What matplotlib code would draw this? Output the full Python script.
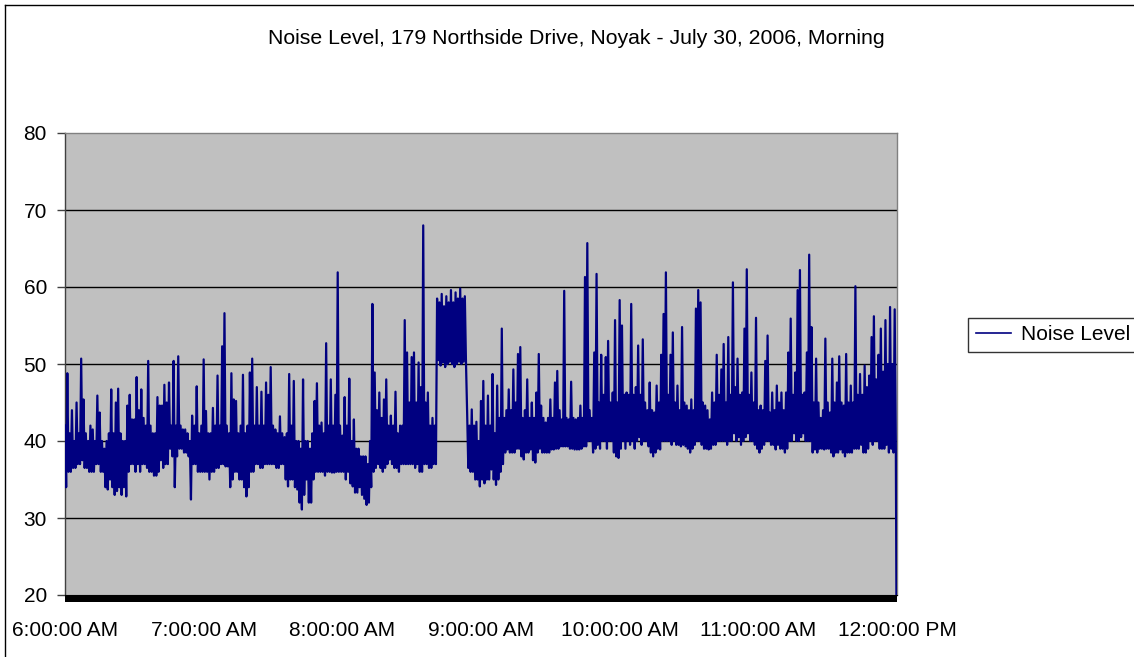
import numpy as np
import matplotlib
matplotlib.use("Agg")
import matplotlib.pyplot as plt
from matplotlib.lines import Line2D
from matplotlib.patches import Rectangle

plt.rcParams['font.family'] = ['Liberation Sans', 'DejaVu Sans']

# Highest and lowest sound level (dB) recorded within each minute, from 6:00 AM
max_06 = [42, 48.8, 41, 44, 40, 45, 41, 50.7, 45.4, 41,
          40, 42, 41.5, 40, 45.9, 43.7, 40, 39, 40, 41,
          46.7, 41, 45, 46.8, 41, 40, 40, 44.6, 46, 42.8,
          42.8, 48.3, 44, 46.7, 43, 42, 50.4, 42, 41, 41,
          45.7, 44.6, 44.6, 47.3, 45, 47.6, 42, 50.4, 42, 51,
          42, 41.5, 41.5, 41, 40, 43.3, 42, 47.1, 41, 42]
min_06 = [34, 36, 36, 36.5, 36.5, 37, 37, 37.5, 36.5, 36.5,
          36, 36, 36, 37, 37, 36, 36, 34, 33.7, 35,
          34, 33, 33.5, 34, 33, 34, 32.8, 36, 37, 37,
          36, 37, 36, 37, 37, 36.5, 36, 36, 35.5, 35.5,
          36, 37.5, 36.5, 37, 37, 39, 38, 34, 38, 39,
          39, 38.5, 38.5, 38, 32.4, 37, 37, 36, 36, 36]

max_07 = [50.6, 43.9, 41, 41, 44.3, 42, 48.5, 42, 52.3, 56.6,
          42, 41, 48.8, 45.4, 45.2, 41, 42, 48.6, 41, 42,
          48.9, 50.7, 42, 47, 42, 46.4, 42, 47.6, 46, 49.6,
          42, 41.5, 41, 43.2, 41, 40.5, 41, 48.7, 42, 47.8,
          40, 40, 39, 48, 40, 40, 39, 41, 45.2, 47.5,
          42, 42.4, 41, 52.7, 42, 48, 42, 46, 61.9, 42]
min_07 = [36, 36, 35, 36, 36, 36.5, 36.5, 37, 37, 36.7,
          36.7, 34, 35, 36, 36, 35, 35, 34, 32.8, 34,
          36, 36, 37, 37, 36.5, 36.5, 37, 37, 37, 37,
          37, 36.5, 36.5, 37, 37, 35, 34.1, 35, 35, 34,
          33.7, 32, 31.1, 33, 35, 32, 32, 35, 36, 36,
          36, 36, 35.5, 36, 36, 35.9, 35.9, 36, 36, 36]

max_08 = [40.7, 45.7, 42, 48.1, 40, 42.8, 39, 39, 38, 38,
          38, 37, 40, 57.8, 48.9, 44, 46.3, 43, 45.4, 48,
          42, 43.3, 42, 46.4, 41, 42, 42, 55.7, 51.5, 45,
          50.9, 51.5, 45, 50.2, 47, 68, 45, 46.3, 42, 43,
          42, 58.5, 58, 59.1, 57.5, 58.8, 58, 59.6, 58, 59.3,
          58.5, 59.8, 58.5, 58.8, 43.7, 42, 44.1, 42, 42.5, 40]
min_08 = [36, 35, 36, 34.5, 34.1, 33.3, 33.3, 34, 33, 32.5,
          31.7, 32, 34, 36, 36.5, 37, 36.5, 36, 36.5, 37,
          37.6, 37, 36.5, 36.5, 36, 37, 37, 37, 37, 37,
          37, 36.5, 37, 36, 36, 37, 37, 36.5, 36.5, 37,
          37, 50.5, 49.8, 50.2, 49.6, 50, 50.3, 50, 49.6, 50,
          50.3, 50, 50.3, 50.2, 36.5, 36, 36, 35, 35, 34.1]

max_09 = [45.2, 47.8, 42, 45.9, 42, 48.7, 41, 47.2, 43, 54.6,
          43, 44, 46.7, 44, 49.3, 45, 51.3, 52.2, 43, 44,
          48, 43, 45, 43, 46.3, 51.3, 44.6, 43, 42.4, 43,
          45.4, 43, 47.6, 49.1, 44, 42.8, 59.5, 43, 42.8, 47.7,
          43, 42.8, 43, 44.6, 43, 61.3, 65.7, 44, 43, 51.5,
          61.7, 45, 51.2, 46, 50.9, 53, 45, 46.3, 55.7, 45]
min_09 = [35, 34.5, 35, 35, 36.3, 35, 34.3, 35, 36, 37,
          38.5, 38.9, 38.5, 38.5, 38.5, 39, 39, 38, 37.6, 38.5,
          38.5, 38.9, 37.5, 37.2, 38.5, 39, 38.5, 38.5, 38.5, 38.5,
          38.9, 38.9, 39, 39, 39.3, 39.3, 39.3, 39.3, 39, 39,
          38.9, 38.9, 38.9, 39, 39.3, 39.3, 40, 40, 38.5, 39,
          39.5, 39, 40, 40, 39, 40, 40, 38.5, 38, 37.8]

max_10 = [58.3, 55, 46, 46.3, 46, 57.8, 46, 47, 52.4, 46,
          53.2, 45, 44, 47.6, 44, 43.7, 47.2, 45, 51.2, 56.5,
          61.9, 46, 51.2, 54.1, 45, 47.2, 44, 54.8, 45, 44.6,
          44, 45.4, 44, 57.2, 59.6, 58, 45, 44.6, 44, 42.8,
          46.3, 45, 51.2, 46, 49.3, 52.6, 45, 53.5, 46, 60.6,
          47, 50.7, 46, 46.3, 54.6, 62.3, 46, 48.9, 45, 56]
min_10 = [39, 40, 39, 40, 39.5, 40, 39, 40, 40.5, 39.5,
          40, 40, 39.3, 38.5, 38, 38.5, 39, 38.9, 40, 40,
          40, 40, 39.5, 40, 39.5, 39.5, 39.3, 39.5, 39.3, 39,
          38.5, 39, 39.5, 40, 40, 39.5, 39, 39, 38.9, 39,
          39.5, 39.5, 40, 40, 40, 40, 39.5, 40, 40, 41,
          40, 40.5, 39.5, 40, 40.5, 41, 40, 40, 39.5, 39]

max_11 = [44, 44.6, 44, 50.4, 53.7, 43.7, 46.3, 44, 47.2, 45,
          46.3, 44, 46.3, 51.5, 55.9, 46, 48.9, 59.6, 62.2, 46,
          46.3, 51.5, 64.2, 54.8, 45, 50.7, 45, 43, 44, 53.3,
          45, 43.7, 50.7, 45, 47.6, 51, 45, 44.6, 51.3, 45,
          47.2, 45, 60.1, 46, 48.7, 46, 49.8, 47, 48.5, 53.5,
          56.2, 48, 51.2, 54.6, 49, 55.7, 50, 57.4, 50, 57.1, 0]
min_11 = [38.5, 39, 39.5, 40, 40, 39.5, 39.5, 38.9, 39.5, 39,
          39, 38.5, 39, 40, 40, 41, 40, 40, 40.5, 41,
          40, 40, 40, 38.5, 38.9, 38.5, 39, 39, 38.9, 39,
          39, 38.5, 38, 38.5, 38.5, 38.9, 38.5, 38, 38.5, 38.5,
          38.5, 39, 39, 39, 39.5, 38.5, 38.5, 39, 40, 39.5,
          40, 40, 39, 39, 39, 39.5, 38.5, 39, 38.5, 39, 0]

minute_max = np.array(max_06 + max_07 + max_08 + max_09 + max_10 + max_11)
minute_min = np.array(min_06 + min_07 + min_08 + min_09 + min_10 + min_11)
minute = np.arange(len(minute_max))

# Trace each minute's peak, then its trough, half a minute later
t = np.column_stack([minute, minute + 0.5]).ravel()
level = np.column_stack([minute_max, minute_min]).ravel()

hour_ticks = [0, 60, 120, 180, 240, 300, 360]
hour_labels = ["6:00:00 AM", "7:00:00 AM", "8:00:00 AM", "9:00:00 AM",
               "10:00:00 AM", "11:00:00 AM", "12:00:00 PM"]
y_ticks = [20, 30, 40, 50, 60, 70, 80]

W, H = 1134, 657
fig = plt.figure(figsize=(W / 100, H / 100), dpi=100)
fig.patch.set_facecolor("white")

left, right, top, bottom = 65, 897, 133, 595
ax = fig.add_axes([left / W, 1 - bottom / H, (right - left) / W, (bottom - top) / H])
ax.set_facecolor("#C0C0C0")

for v in y_ticks[1:-1]:
    ax.axhline(v, color="black", lw=1.0, zorder=1)

ax.plot(t, level, color="#000080", lw=1.6, zorder=3,
        label="Noise Level")

ax.set_xlim(0, 360)
ax.set_ylim(20, 80)
ax.set_yticks(y_ticks)
ax.set_xticks(hour_ticks)
ax.set_xticklabels(hour_labels)

for s in ("top", "right"):
    ax.spines[s].set_color("#808080")
    ax.spines[s].set_linewidth(1.0)
ax.spines["left"].set_color("#404040")
ax.spines["left"].set_linewidth(1.0)
ax.spines["bottom"].set_color("black")

ax.tick_params(axis="y", direction="out", length=6, width=1, color="#404040",
               labelsize=15, pad=7)
ax.tick_params(axis="x", length=0, labelsize=15, pad=19)

# Dense minute ticks along the time axis merge into a solid band
ax.add_patch(Rectangle((0, -0.0152), 360, 0.0152,
                       transform=ax.get_xaxis_transform(),
                       facecolor="black", edgecolor="none", clip_on=False, zorder=5))

fig.text(576 / W, 1 - 39 / H,
         "Noise Level, 179 Northside Drive, Noyak - July 30, 2006, Morning",
         ha="center", va="center", fontsize=15.3)

leg = fig.legend(loc="center left", bbox_to_anchor=(968 / W, 1 - 335 / H),
                 fontsize=15, frameon=True, fancybox=False, borderaxespad=0,
                 borderpad=0.38, handlelength=1.7, handletextpad=0.45)
leg.get_frame().set_edgecolor("black")
leg.get_frame().set_linewidth(1.0)
leg.get_lines()[0].set_linewidth(1.2)

# Chart-area frame
fig.add_artist(Line2D([5 / W, 5 / W], [0, 1 - 5 / H], color="black", lw=1.0))
fig.add_artist(Line2D([5 / W, 1], [1 - 5 / H, 1 - 5 / H], color="black", lw=1.0))

fig.savefig("out.png", dpi=100)
